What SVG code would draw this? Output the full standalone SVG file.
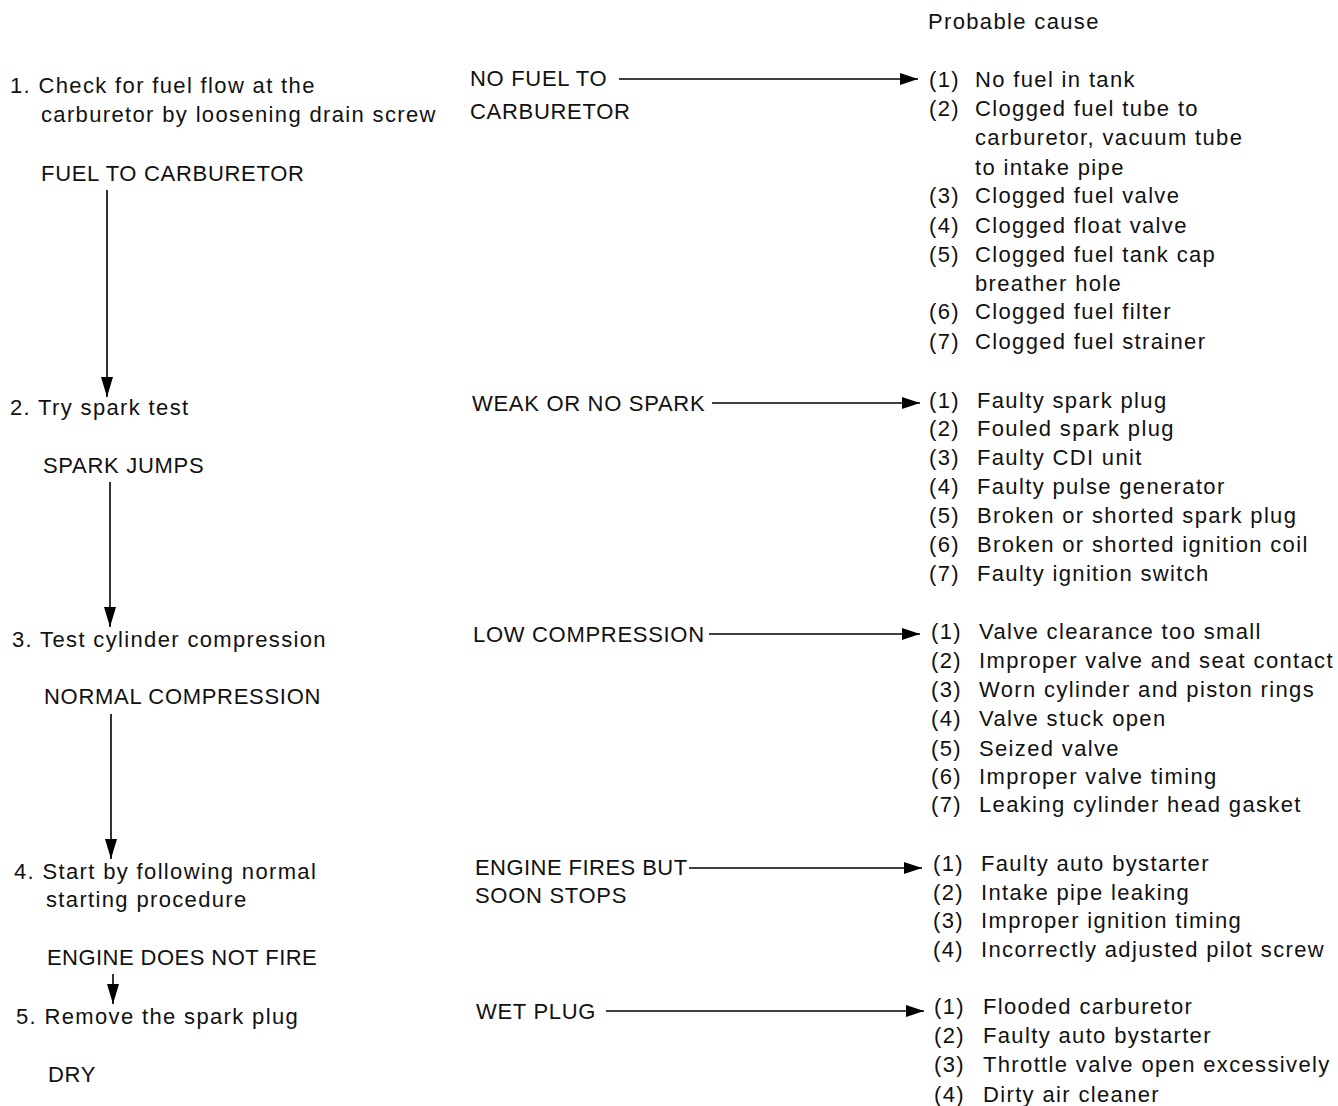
<svg xmlns="http://www.w3.org/2000/svg" width="1338" height="1106" viewBox="0 0 1338 1106">
<defs>
<marker id="ahv" viewBox="0 0 10 10" refX="10" refY="5" markerWidth="20" markerHeight="12" markerUnits="userSpaceOnUse" orient="auto" preserveAspectRatio="none"><path d="M0,0 L10,5 L0,10 Z" fill="#000"/></marker>
<marker id="ahh" viewBox="0 0 10 10" refX="10" refY="5" markerWidth="18" markerHeight="12" markerUnits="userSpaceOnUse" orient="auto" preserveAspectRatio="none"><path d="M0,0 L10,5 L0,10 Z" fill="#000"/></marker>
</defs>
<style>
text{font-family:"Liberation Sans",Arial,sans-serif;font-size:22px;fill:#111;letter-spacing:1.35px}
text.u{letter-spacing:0.7px}
text.t{letter-spacing:0.45px}
.c line{stroke:#000;stroke-width:1.6;fill:none}
.v{marker-end:url(#ahv)}
.h{marker-end:url(#ahh)}
</style>
<rect width="1338" height="1106" fill="#fff"/>

<g id="header"><text x="928" y="29">Probable cause</text></g>

<g id="step1"><text x="10" y="93">1. Check for fuel flow at the</text><text x="41" y="122">carburetor by loosening drain screw</text></g>
<g id="fuel-ok"><text class="u" x="41" y="181">FUEL TO CARBURETOR</text></g>
<g id="step2"><text x="10" y="415">2. Try spark test</text></g>
<g id="spark-ok"><text class="u" x="43" y="473">SPARK JUMPS</text></g>
<g id="step3"><text x="12" y="647">3. Test cylinder compression</text></g>
<g id="comp-ok"><text class="u" x="44" y="704">NORMAL COMPRESSION</text></g>
<g id="step4"><text x="14" y="879">4. Start by following normal</text><text x="46" y="907">starting procedure</text></g>
<g id="no-fire"><text class="t" x="47" y="965">ENGINE DOES NOT FIRE</text></g>
<g id="step5"><text x="16" y="1024">5. Remove the spark plug</text></g>
<g id="dry"><text class="u" x="48" y="1082">DRY</text></g>

<g id="no-fuel"><text class="u" x="470" y="86">NO FUEL TO</text><text class="u" x="470" y="119">CARBURETOR</text></g>
<g id="weak-spark"><text class="u" x="472" y="411">WEAK OR NO SPARK</text></g>
<g id="low-comp"><text class="u" x="473" y="642">LOW COMPRESSION</text></g>
<g id="fires-stops"><text class="t" x="475" y="875">ENGINE FIRES BUT</text><text class="u" x="475" y="903">SOON STOPS</text></g>
<g id="wet-plug"><text class="u" x="476" y="1019">WET PLUG</text></g>

<g id="causes-fuel">
<text x="929" y="87">(1)</text><text x="975" y="87">No fuel in tank</text>
<text x="929" y="116">(2)</text><text x="975" y="116">Clogged fuel tube to</text>
<text x="975" y="145">carburetor, vacuum tube</text>
<text x="975" y="175">to intake pipe</text>
<text x="929" y="203">(3)</text><text x="975" y="203">Clogged fuel valve</text>
<text x="929" y="233">(4)</text><text x="975" y="233">Clogged float valve</text>
<text x="929" y="262">(5)</text><text x="975" y="262">Clogged fuel tank cap</text>
<text x="975" y="291">breather hole</text>
<text x="929" y="319">(6)</text><text x="975" y="319">Clogged fuel filter</text>
<text x="929" y="349">(7)</text><text x="975" y="349">Clogged fuel strainer</text>
</g>
<g id="causes-spark">
<text x="929" y="408">(1)</text><text x="977" y="408">Faulty spark plug</text>
<text x="929" y="436">(2)</text><text x="977" y="436">Fouled spark plug</text>
<text x="929" y="465">(3)</text><text x="977" y="465">Faulty CDI unit</text>
<text x="929" y="494">(4)</text><text x="977" y="494">Faulty pulse generator</text>
<text x="929" y="523">(5)</text><text x="977" y="523">Broken or shorted spark plug</text>
<text x="929" y="552">(6)</text><text x="977" y="552">Broken or shorted ignition coil</text>
<text x="929" y="581">(7)</text><text x="977" y="581">Faulty ignition switch</text>
</g>
<g id="causes-comp">
<text x="931" y="639">(1)</text><text x="979" y="639">Valve clearance too small</text>
<text x="931" y="668">(2)</text><text x="979" y="668">Improper valve and seat contact</text>
<text x="931" y="697">(3)</text><text x="979" y="697">Worn cylinder and piston rings</text>
<text x="931" y="726">(4)</text><text x="979" y="726">Valve stuck open</text>
<text x="931" y="756">(5)</text><text x="979" y="756">Seized valve</text>
<text x="931" y="784">(6)</text><text x="979" y="784">Improper valve timing</text>
<text x="931" y="812">(7)</text><text x="979" y="812">Leaking cylinder head gasket</text>
</g>
<g id="causes-fires">
<text x="933" y="871">(1)</text><text x="981" y="871">Faulty auto bystarter</text>
<text x="933" y="900">(2)</text><text x="981" y="900">Intake pipe leaking</text>
<text x="933" y="928">(3)</text><text x="981" y="928">Improper ignition timing</text>
<text x="933" y="957">(4)</text><text x="981" y="957">Incorrectly adjusted pilot screw</text>
</g>
<g id="causes-wet">
<text x="934" y="1014">(1)</text><text x="983" y="1014">Flooded carburetor</text>
<text x="934" y="1043">(2)</text><text x="983" y="1043">Faulty auto bystarter</text>
<text x="934" y="1072">(3)</text><text x="983" y="1072">Throttle valve open excessively</text>
<text x="934" y="1102">(4)</text><text x="983" y="1102">Dirty air cleaner</text>
</g>

<g id="connectors" class="c">
<line class="v" x1="107" y1="190" x2="107" y2="397"/>
<line class="v" x1="110" y1="482" x2="110" y2="627"/>
<line class="v" x1="111" y1="714" x2="111" y2="859"/>
<line class="v" x1="113" y1="974" x2="113" y2="1004"/>
<line class="h" x1="619" y1="79" x2="918" y2="79"/>
<line class="h" x1="712" y1="403" x2="920" y2="403"/>
<line class="h" x1="709" y1="634" x2="920" y2="634"/>
<line class="h" x1="689" y1="868" x2="922" y2="868"/>
<line class="h" x1="606" y1="1011" x2="924" y2="1011"/>
</g>
</svg>
